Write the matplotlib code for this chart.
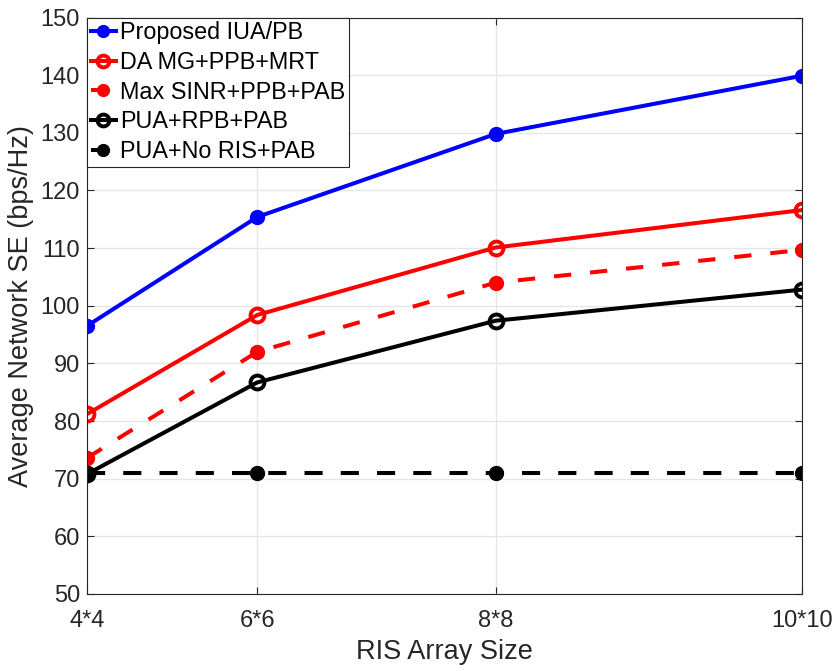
import matplotlib
matplotlib.use("Agg")
import matplotlib.pyplot as plt

plt.rcParams['font.family'] = ['Liberation Sans', 'DejaVu Sans']

# RIS element counts (N*N) used as x positions
ris_sizes = [16, 36, 64, 100]
ris_labels = ['4*4', '6*6', '8*8', '10*10']

proposed = [96.5, 115.4, 129.8, 139.9]
da_mg = [81.2, 98.4, 110.1, 116.6]
max_sinr = [73.6, 92.0, 104.0, 109.7]
pua_rpb = [70.8, 86.7, 97.4, 102.8]
pua_noris = [71.0, 71.0, 71.0, 71.0]

txt = (0.15, 0.15, 0.15)
lw = 2.9

fig = plt.figure(figsize=(8.39, 6.71), dpi=100)
ax = fig.add_axes([0.1037, 0.1148, 0.8523, 0.8591])

ax.plot(ris_sizes, proposed, '-o', color='b', lw=lw, ms=10, mew=1,
        label='Proposed IUA/PB')
ax.plot(ris_sizes, da_mg, '-o', color='r', lw=lw, ms=10, mew=2.8,
        mfc='none', label='DA MG+PPB+MRT')
ax.plot(ris_sizes, max_sinr, '--o', color='r', lw=lw, ms=10, mew=1,
        dashes=(4.3, 4.7), label='Max SINR+PPB+PAB')
ax.plot(ris_sizes, pua_rpb, '-o', color='k', lw=lw, ms=10, mew=2.8,
        mfc='none', label='PUA+RPB+PAB')
ax.plot(ris_sizes, pua_noris, '--o', color='k', lw=lw, ms=10, mew=1,
        dashes=(4.5, 4.5), label='PUA+No RIS+PAB')

ax.set_xlim(16, 100)
ax.set_ylim(50, 150)
ax.set_xticks(ris_sizes)
ax.set_xticklabels(ris_labels)
ax.set_yticks(range(50, 151, 10))

ax.grid(True, color=(0.9, 0.9, 0.9), lw=1.0)
ax.set_axisbelow(True)
for s in ax.spines.values():
    s.set_color(txt)
    s.set_linewidth(0.8)
ax.tick_params(direction='in', length=5, width=0.8, colors=txt,
               labelsize=17, top=True, right=True)
ax.tick_params(axis='x', pad=11.5)
ax.tick_params(axis='y', pad=5)

ax.set_xlabel('RIS Array Size', fontsize=19.5, color=txt, labelpad=5)
ax.set_ylabel('Average Network SE (bps/Hz)', fontsize=19.5, color=txt,
              labelpad=5)

leg = ax.legend(loc='upper left', fontsize=16.8, borderaxespad=0,
                fancybox=False, framealpha=1, edgecolor=txt,
                handlelength=1.1, handletextpad=0.18, labelspacing=0.29,
                borderpad=0.15, markerscale=0.85)
leg.get_frame().set_linewidth(0.8)

fig.savefig('out.png', dpi=100)
